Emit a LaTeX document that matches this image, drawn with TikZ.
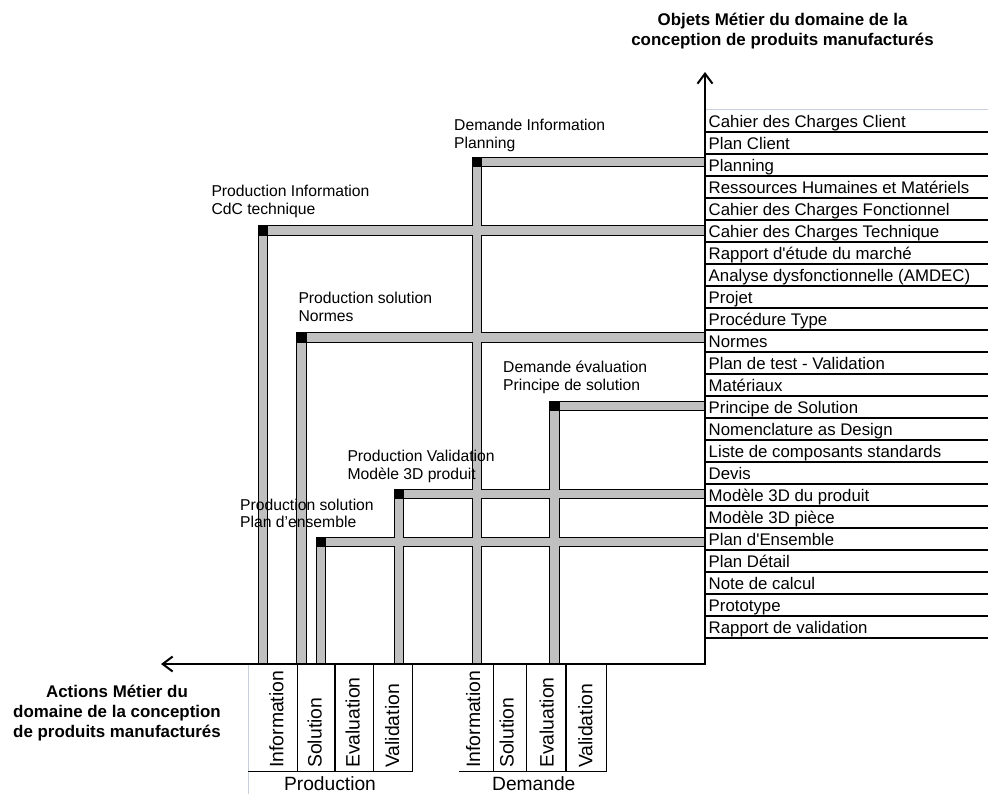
\documentclass[tikz,border=0pt]{standalone}
\usepackage{fontspec}
\newfontfamily\af{Liberation Sans}
\usetikzlibrary{arrows.meta}
\definecolor{bargray}{RGB}{192,192,192}
\definecolor{faint}{RGB}{200,208,222}
\begin{document}
\begin{tikzpicture}[x=1pt,y=-1pt,
  rowtext/.style={anchor=base west, inner sep=0pt, font=\af\fontsize{16.8}{20}\selectfont},
  lbl/.style={anchor=base west, inner sep=0pt, font=\af\fontsize{15.7}{17.7}\selectfont},
  coltext/.style={rotate=90, anchor=west, inner sep=0pt, font=\af\fontsize{19.4}{22}\selectfont},
  grp/.style={anchor=base, inner sep=0pt, font=\af\fontsize{19.2}{22}\selectfont},
  axtitle/.style={anchor=base, inner sep=0pt, font=\af\bfseries\fontsize{16.9}{19.7}\selectfont},
  barline/.style={draw=black, line width=1pt, fill=bargray},
  gridline/.style={line width=1.2pt, black},
  axisline/.style={line width=2pt, line join=miter, {Straight Barb[length=10pt,width=15pt]}-{Straight Barb[length=10pt,width=15pt]}},
]
\useasboundingbox (0,0) rectangle (988,794);
\def\bw{9.6}
% bars: outlines first
\foreach \n/\bx/\by in {plan/472.3/157.3, cdc/258.3/226, nor/296.8/332.5, pri/549.6/401.2, mod/394/489.3, ens/316/537.2} {
  \draw[barline] (\bx,\by) rectangle ({\bx+\bw},664);
  \draw[barline] (\bx,\by) rectangle (705,{\by+\bw});
}
% bars: fills over crossings
\foreach \n/\bx/\by in {plan/472.3/157.3, cdc/258.3/226, nor/296.8/332.5, pri/549.6/401.2, mod/394/489.3, ens/316/537.2} {
  \fill[bargray] ({\bx+0.5},{\by+0.5}) rectangle ({\bx+\bw-0.5},663);
  \fill[bargray] ({\bx+0.5},{\by+0.5}) rectangle (704,{\by+\bw-0.5});
}
% corner squares
\foreach \n/\bx/\by in {plan/472.3/157.3, cdc/258.3/226, nor/296.8/332.5, pri/549.6/401.2, mod/394/489.3, ens/316/537.2} {
  \coordinate (k-\n) at ({\bx-0.5},{\by-0.5});
  \fill[black] (k-\n) rectangle +({\bw+1},{\bw+1});
}
% table of objects
\draw[faint, line width=1pt] (705,110) -- (988,110);
\foreach \t [count=\i from 0] in {Cahier des Charges Client, Plan Client, Planning, Ressources Humaines et Matériels, Cahier des Charges Fonctionnel, Cahier des Charges Technique, Rapport d\textquotesingle étude du marché, Analyse dysfonctionnelle (AMDEC), Projet, Procédure Type, Normes, Plan de test - Validation, Matériaux, Principe de Solution, Nomenclature as Design, Liste de composants standards, Devis, Modèle 3D du produit, Modèle 3D pièce, Plan d\textquotesingle Ensemble, Plan Détail, Note de calcul, Prototype, Rapport de validation} {
  \node[rowtext] (row\i) at (708.5,{110+22*\i+17.6}) {\t};
  \draw[gridline] (705,{132+22*\i}) -- (988,{132+22*\i});
}
% axes
\coordinate (O) at (705,664);
\coordinate (ytip) at (705,72);
\coordinate (xtip) at (161,664);
\draw[axisline] (ytip) -- (O) -- (xtip);
% action columns
\draw[faint, line width=1pt] (248.3,665) -- (248.3,794);
\foreach \x in {297.3,335,373.3,412.7,493.3,526.7,566,606.7}
  \draw[gridline] (\x,665) -- (\x,771.7);
\draw[gridline] (248.3,771.7) -- (412.7,771.7);
\draw[gridline] (459.3,771.7) -- (606.7,771.7);
\foreach \nm/\x/\t in {pi/276.5/Information, ps/314.7/Solution, pe/352.7/Evaluation, pv/392.3/Validation, di/473.3/Information, ds/506.7/Solution, de/546.7/Evaluation, dv/585.5/Validation}
  \node[coltext] (c-\nm) at (\x,768) {\t};
\node[grp] (gprod) at (330,790) {Production};
\node[grp] (gdem) at (533.8,790) {Demande};
% bar labels
\node[lbl] (l-plan) at (454,131) {\begin{tabular}[t]{@{}l@{}}Demande Information\\Planning\end{tabular}};
\node[lbl] (l-cdc) at (211.3,196.7) {\begin{tabular}[t]{@{}l@{}}Production Information\\CdC technique\end{tabular}};
\node[lbl] (l-nor) at (298.3,304) {\begin{tabular}[t]{@{}l@{}}Production solution\\Normes\end{tabular}};
\node[lbl] (l-pri) at (503,372.3) {\begin{tabular}[t]{@{}l@{}}Demande évaluation\\Principe de solution\end{tabular}};
\node[lbl] (l-mod) at (347.3,461.7) {\begin{tabular}[t]{@{}l@{}}Production Validation\\Modèle 3D produit\end{tabular}};
\node[lbl] (l-ens) at (240,510) {\begin{tabular}[t]{@{}l@{}}Production solution\\Plan d’ensemble\end{tabular}};
% axis titles
\node[axtitle] (tobj) at (782.5,26) {\begin{tabular}[t]{@{}c@{}}Objets Métier du domaine de la\\conception de produits manufacturés\end{tabular}};
\node[axtitle, font=\af\bfseries\fontsize{16.9}{20}\selectfont] (tact) at (117,697.3) {\begin{tabular}[t]{@{}c@{}}Actions Métier du\\domaine de la conception\\de produits manufacturés\end{tabular}};
\end{tikzpicture}
\end{document}
